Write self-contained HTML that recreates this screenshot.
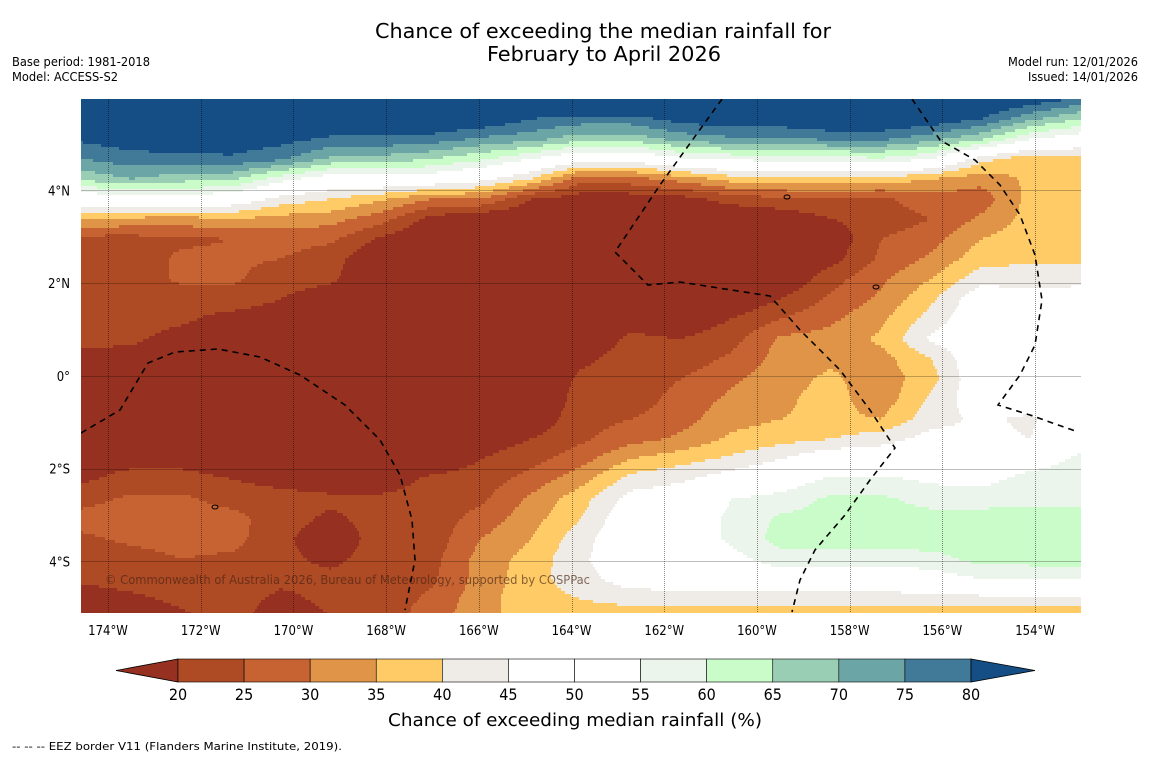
<!DOCTYPE html>
<html><head><meta charset="utf-8">
<style>
html,body{margin:0;padding:0;background:#fff;}
svg{display:block;font-family:"DejaVu Sans Condensed","DejaVu Sans","Liberation Sans",sans-serif;}
</style></head>
<body>
<svg id="chart" width="1150" height="758" viewBox="0 0 1150 758" xmlns="http://www.w3.org/2000/svg">
<rect x="0" y="0" width="1150" height="758" fill="#fff"/>
<text x="603" y="38" text-anchor="middle" font-size="20" textLength="456" lengthAdjust="spacingAndGlyphs">Chance of exceeding the median rainfall for</text>
<text x="604" y="61" text-anchor="middle" font-size="20" textLength="234" lengthAdjust="spacingAndGlyphs">February to April 2026</text>
<text x="12" y="66" font-size="12" textLength="138" lengthAdjust="spacingAndGlyphs">Base period: 1981-2018</text>
<text x="12" y="81" font-size="12" textLength="106" lengthAdjust="spacingAndGlyphs">Model: ACCESS-S2</text>
<text x="1138" y="66" font-size="12" text-anchor="end" textLength="130" lengthAdjust="spacingAndGlyphs">Model run: 12/01/2026</text>
<text x="1138" y="81" font-size="12" text-anchor="end" textLength="110" lengthAdjust="spacingAndGlyphs">Issued: 14/01/2026</text>
<clipPath id="mapclip"><rect x="81" y="99" width="1000" height="514"/></clipPath>
<g id="map" clip-path="url(#mapclip)"></g>
<g id="ticks"></g>
<g id="cbar"></g>
<text x="575" y="726" text-anchor="middle" font-size="18" textLength="374" lengthAdjust="spacingAndGlyphs">Chance of exceeding median rainfall (%)</text>
<text x="12" y="750" font-size="11" textLength="330" lengthAdjust="spacingAndGlyphs">--  --  -- EEZ border V11 (Flanders Marine Institute, 2019).</text>
</svg>
<script>
// ---- data ----
const lonMin = -174.583, lonMax = -153.009;   // map extent (deg, east positive)
const latMax = 5.973, latMin = -5.111;
const lonTicks = [-174,-172,-170,-168,-166,-164,-162,-160,-158,-156,-154];
const lonTickLabels = ["174°W","172°W","170°W","168°W","166°W","164°W","162°W","160°W","158°W","156°W","154°W"];
const latTicks = [4,2,0,-2,-4];
const latTickLabels = ["4°N","2°N","0°","2°S","4°S"];
const levelBounds = [20,25,30,35,40,45,50,55,60,65,70,75,80];
const levelColors = ["#963020","#ae4a24","#c76333","#e09448","#fecb66","#efebe6","#ffffff","#ffffff","#ebf5eb","#c9fcc9","#99cdb4","#6ca5a5","#417a99","#154e85"];
// chance (%) at grid nodes; each inner array is one longitude column, north -> south (27 nodes)
const col00 = [90,88,81,75,66,50,35,23,22,22,22,22,21,19,15,15,15,15,17,19,23,27,24,22,21,17,15];
const col01 = [90,88,83,78,70,51,34,23,22,22,22,22,21,18,15,15,15,15,18,22,26,28,26,23,22,19,16];
const col02 = [90,89,84,78,67,52,33,24,26,26,22,21,18,15,15,15,15,15,18,22,26,28,27,25,22,21,19];
const col03 = [90,89,84,79,66,50,35,25,26,26,23,18,15,15,15,15,15,15,16,20,23,27,27,24,23,22,22];
const col04 = [90,88,82,76,57,43,33,27,25,22,20,17,15,15,15,15,15,15,15,18,22,22,21,21,21,19,17];
const col05 = [90,86,79,69,51,40,32,26,22,21,17,15,15,15,15,15,15,15,15,17,21,19,17,19,21,21,20];
const col06 = [90,86,79,68,52,36,27,19,15,15,15,15,15,15,15,15,15,15,15,17,21,22,22,22,22,22,22];
const col07 = [90,86,78,65,51,30,18,15,15,15,15,15,15,15,15,15,15,15,16,21,22,22,22,23,24,26,28];
const col08 = [90,85,74,61,47,30,15,15,15,15,15,15,15,15,15,15,15,17,20,22,24,27,30,32,32,33,33];
const col09 = [90,80,72,55,40,20,15,15,15,15,15,15,15,15,15,15,16,20,23,27,31,33,35,37,38,38,38];
const col10 = [90,78,67,48,27,17,15,15,15,15,15,15,16,19,21,22,23,24,28,33,38,40,43,44,43,40,37];
const col11 = [90,78,67,48,28,17,15,15,15,15,15,18,21,22,22,22,25,28,35,42,47,50,50,50,48,42,36];
const col12 = [90,82,72,54,32,18,15,15,15,15,15,16,20,22,25,27,28,31,38,44,49,51,51,50,49,42,36];
const col13 = [90,84,74,56,37,22,15,15,15,15,15,20,23,26,29,31,33,36,41,48,55,56,56,53,50,42,36];
const col14 = [90,84,74,57,38,24,16,15,15,15,20,25,31,32,33,34,35,38,45,51,57,61,62,58,51,42,36];
const col15 = [90,86,76,58,38,25,20,16,18,23,26,29,32,34,36,37,36,40,50,56,61,62,62,58,51,42,36];
const col16 = [90,86,76,59,38,24,22,25,26,29,31,34,36,33,32,32,35,43,49,56,61,62,62,58,51,42,36];
const col17 = [90,84,72,55,35,28,25,28,31,35,39,42,46,40,38,41,43,47,50,54,58,62,63,58,52,42,36];
const col18 = [88,80,66,42,32,27,31,35,38,43,49,50,50,50,50,49,46,46,50,53,58,62,63,62,55,43,36];
const col19 = [84,71,55,36,36,37,37,38,39,43,47,50,50,50,50,48,44,45,52,57,59,62,63,62,56,43,36];
const col20 = [79,65,51,38,37,37,37,38,39,44,47,50,52,53,51,50,51,53,56,58,59,62,63,62,56,43,36];
const chanceColumns = [col00,col01,col02,col03,col04,col05,col06,col07,col08,col09,col10,col11,col12,col13,col14,col15,col16,col17,col18,col19,col20];

// ---- axes ----
const X0 = 81, X1 = 1081, Y0 = 99, Y1 = 613;
function xScale(lon){ return X0 + (lon - lonMin) / (lonMax - lonMin) * (X1 - X0); }
function yScale(lat){ return Y0 + (latMax - lat) / (latMax - latMin) * (Y1 - Y0); }
const NS = "http://www.w3.org/2000/svg";
function mk(tag, attrs, parent){ const e = document.createElementNS(NS, tag); for (const k in attrs) e.setAttribute(k, attrs[k]); parent.appendChild(e); return e; }
function levelIndex(v){ let i = 0; while (i < levelBounds.length && v >= levelBounds[i]) i++; return i; }
function valueAt(lon, lat){
  const nc = chanceColumns.length, nr = chanceColumns[0].length;
  let fx = (lon - lonMin) / (lonMax - lonMin) * (nc - 1);
  let fy = (latMax - lat) / (latMax - latMin) * ((nr - 1) * 0.9887);
  fx = Math.max(0, Math.min(nc - 1.0001, fx)); fy = Math.max(0, Math.min(nr - 1.0001, fy));
  const i = Math.floor(fx), j = Math.floor(fy), tx = fx - i, ty = fy - j;
  const a = chanceColumns[i][j], b = chanceColumns[i+1][j], c = chanceColumns[i][j+1], d = chanceColumns[i+1][j+1];
  return (a*(1-tx)+b*tx)*(1-ty) + (c*(1-tx)+d*tx)*ty;
}
const map = document.getElementById('map');
const field = mk('g', {}, map);


const stepX = 2, stepY = 3;
for (let y = Y0; y < Y1; y += stepY) {
  const lat = latMax - ((y + stepY/2) - Y0) / (Y1 - Y0) * (latMax - latMin);
  let runStart = X0, runLevel = -1;
  for (let x = X0; x <= X1; x += stepX) {
    let lv = -2;
    if (x < X1) { const lon = lonMin + ((x + stepX/2) - X0) / (X1 - X0) * (lonMax - lonMin); lv = levelIndex(valueAt(lon, lat)); }
    if (lv !== runLevel) {
      if (runLevel >= 0) {
        const r = mk('rect', {x: runStart, y: y, width: x - runStart + 0.6, height: stepY + 0.6, fill: levelColors[runLevel]}, field);
        
        
      }
      runStart = x; runLevel = lv;
    }
  }
}
// graticule
const grid = mk('g', {}, map);


lonTicks.forEach(function(lon){
  const gx = Math.round(xScale(lon)) + 0.5;
  const l = mk('line', {x1: gx, x2: gx, y1: Y0, y2: Y1, stroke: 'rgba(0,0,0,0.45)', 'stroke-width': 1, 'stroke-dasharray': '1,1'}, grid);
  
  
});
latTicks.forEach(function(lat){
  const gy = Math.round(yScale(lat)) + 0.5;
  const l = mk('line', {x1: X0, x2: X1, y1: gy, y2: gy, stroke: 'rgba(0,0,0,0.25)', 'stroke-width': 1}, grid);
  
  
});
// EEZ borders
const eez = mk('g', {fill: 'none', stroke: '#000', 'stroke-width': 1.6, 'stroke-dasharray': '6,5'}, map);


['M81,433 L120,410 L148,363 L175,352 L218,349 L260,357 L300,375 L345,405 L380,440 L400,475 L412,520 L415,560 L405,610',
 'M722,99 L660,185 L615,252 L648,285 L680,282 L770,296 L800,330 L840,370 L870,410 L895,448 L870,480 L845,515 L815,550 L800,580 L792,612',
 'M912,99 L940,140 L975,160 L1000,185 L1020,215 L1035,255 L1042,300 L1035,345 L1020,375 L998,405 L1030,415 L1078,432'
].forEach(function(d){
  const p = mk('path', {d: d}, eez);
  
  
});
// islands
[[787,197],[876,287],[215,507]].forEach(function(c){
  const e = mk('ellipse', {cx: c[0], cy: c[1], rx: 3, ry: 2, fill: 'none', stroke: '#000', 'stroke-width': 1}, map);
  
  
});
const cp = mk('text', {x: 105, y: 584, 'font-size': 12, fill: 'rgba(70,35,20,0.65)', textLength: 485, lengthAdjust: 'spacingAndGlyphs'}, map);
cp.textContent = '© Commonwealth of Australia 2026, Bureau of Meteorology, supported by COSPPac';



// tick labels
const ticks = document.getElementById('ticks');
lonTicks.forEach(function(lon, i){
  const t = mk('text', {x: xScale(lon), y: 635, 'font-size': 13, 'text-anchor': 'middle'}, ticks);
  t.textContent = lonTickLabels[i];
  
  
});
latTicks.forEach(function(lat, i){
  const t = mk('text', {x: 70, y: yScale(lat) + 5, 'font-size': 13, 'text-anchor': 'end'}, ticks);
  t.textContent = latTickLabels[i];
  
  
});

// colorbar
const cbar = document.getElementById('cbar');
const CB0 = 178, CB1 = 971, CBy = 659, CBh = 23;
const boxW = (CB1 - CB0) / (levelBounds.length - 1);
const lt = mk('polygon', {points: '116,' + (CBy + CBh/2) + ' ' + CB0 + ',' + CBy + ' ' + CB0 + ',' + (CBy + CBh), fill: levelColors[0], stroke: '#000', 'stroke-width': 0.8}, cbar);


for (let i = 1; i < levelBounds.length; i++) {
  const r = mk('rect', {x: CB0 + (i-1)*boxW, y: CBy, width: boxW, height: CBh, fill: levelColors[i], stroke: '#000', 'stroke-width': 0.6}, cbar);
  
  
}
const rt = mk('polygon', {points: CB1 + ',' + CBy + ' 1035,' + (CBy + CBh/2) + ' ' + CB1 + ',' + (CBy + CBh), fill: levelColors[levelColors.length-1], stroke: '#000', 'stroke-width': 0.8}, cbar);


levelBounds.forEach(function(b, i){
  const t = mk('text', {x: CB0 + i*boxW, y: 700, 'font-size': 16, 'text-anchor': 'middle'}, cbar);
  t.textContent = String(b);
  
  
});
</script>
</body></html>
